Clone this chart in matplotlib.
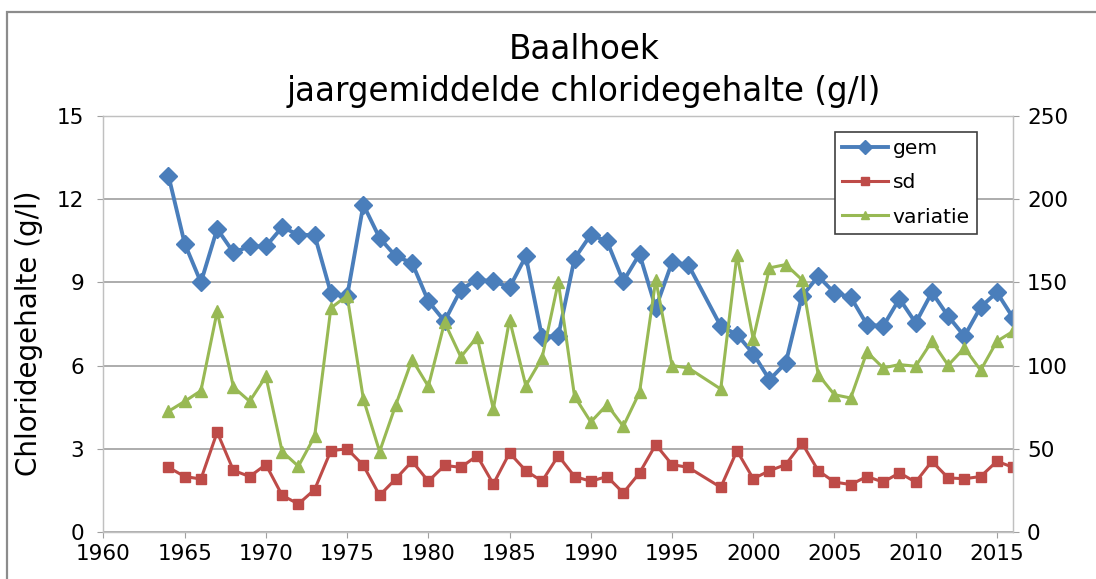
import matplotlib.pyplot as plt
from matplotlib.patches import Rectangle

# jaren (1997 ontbreekt)
jaren = [1964, 1965, 1966, 1967, 1968, 1969, 1970, 1971, 1972, 1973,
         1974, 1975, 1976, 1977, 1978, 1979, 1980, 1981, 1982, 1983,
         1984, 1985, 1986, 1987, 1988, 1989, 1990, 1991, 1992, 1993,
         1994, 1995, 1996, 1998, 1999, 2000, 2001, 2002, 2003, 2004,
         2005, 2006, 2007, 2008, 2009, 2010, 2011, 2012, 2013, 2014,
         2015, 2016]

gem = [12.85, 10.4, 9.0, 10.93, 10.08, 10.3, 10.3, 10.99, 10.72, 10.7,
       8.62, 8.5, 11.8, 10.6, 9.94, 9.7, 8.32, 7.6, 8.74, 9.1,
       9.04, 8.82, 9.94, 7.03, 7.08, 9.86, 10.72, 10.48, 9.04, 10.02,
       8.08, 9.72, 9.64, 7.42, 7.12, 6.43, 5.49, 6.09, 8.5, 9.22,
       8.62, 8.47, 7.48, 7.42, 8.41, 7.54, 8.64, 7.78, 7.06, 8.11,
       8.64, 7.72]

sd = [2.33, 2.0, 1.91, 3.6, 2.22, 2.0, 2.43, 1.32, 1.01, 1.53,
      2.93, 3.0, 2.4, 1.32, 1.92, 2.55, 1.83, 2.4, 2.33, 2.75,
      1.73, 2.85, 2.21, 1.83, 2.75, 2.0, 1.83, 2.0, 1.41, 2.13,
      3.15, 2.43, 2.33, 1.61, 2.93, 1.92, 2.21, 2.43, 3.21, 2.21,
      1.8, 1.71, 2.0, 1.8, 2.13, 1.8, 2.55, 1.95, 1.92, 2.0,
      2.55, 2.33]

variatie = [72.5, 78.5, 84.9, 132.6, 87.1, 78.5, 93.5, 48.3, 39.5, 57.5,
            134.6, 142, 79.9, 48.3, 76.5, 103.6, 87.5, 126, 105.2, 117.2,
            73.9, 127.6, 87.9, 104.6, 150.2, 81.5, 66.1, 76.5, 63.5, 83.9,
            151.6, 100, 98.6, 85.9, 166.7, 116, 158.7, 160.7, 151.6, 94.6,
            82.5, 80.5, 108.2, 98.6, 100.6, 99.6, 114.6, 100.2, 110.6, 97.2,
            114.6, 120.6]

links_ticks = [0, 3, 6, 9, 12, 15]
rechts_ticks = [0, 50, 100, 150, 200, 250]
x_ticks = [1960, 1965, 1970, 1975, 1980, 1985, 1990, 1995, 2000, 2005, 2010, 2015]

blauw = '#4a7ebb'
rood = '#be4b48'
groen = '#98b954'

fig = plt.figure(figsize=(10.96, 5.79), dpi=100)
ax = fig.add_axes([0.0944, 0.0812, 0.830, 0.7185])
ax2 = ax.twinx()

# buitenrand van de grafiek
fig.patches.append(Rectangle((7 / 1096, -0.1), 1.2, 1.1 - 12 / 579,
                             transform=fig.transFigure, fill=False,
                             edgecolor='#8c8c8c', lw=1.6))

l1, = ax.plot(jaren, gem, color=blauw, lw=2.8, marker='D', ms=9.5, label='gem')
l2, = ax.plot(jaren, sd, color=rood, lw=2.2, marker='s', ms=7.5, label='sd')
l3, = ax2.plot(jaren, variatie, color=groen, lw=2.2, marker='^', ms=9, label='variatie')

ax.set_xlim(1960, 2016)
ax.set_ylim(0, 15)
ax2.set_ylim(0, 250)
ax.set_xticks(x_ticks)
ax.set_yticks(links_ticks)
ax2.set_yticks(rechts_ticks)

ax.yaxis.grid(True, color='#a6a6a6', lw=1.3)
ax.set_axisbelow(True)

for a in (ax, ax2):
    for s in a.spines.values():
        s.set_color('#c0c0c0')
        s.set_linewidth(0.9)
ax.tick_params(axis='x', direction='out', length=4, color='#a0a0a0',
               labelsize=15.5, pad=5)
ax.tick_params(axis='y', direction='out', length=4, color='#a0a0a0',
               labelsize=15.5, pad=10)
ax2.tick_params(axis='y', direction='out', length=4, color='#a0a0a0',
                labelsize=15.5, pad=6)

ax.set_ylabel('Chloridegehalte (g/l)', fontsize=20)
ax.yaxis.set_label_coords(-0.067, 0.478)

fig.text(0.533, 0.915, 'Baalhoek', ha='center', va='center', fontsize=23.5)
fig.text(0.533, 0.842, 'jaargemiddelde chloridegehalte (g/l)',
         ha='center', va='center', fontsize=23.5)

leg = ax2.legend(handles=[l1, l2, l3], loc='upper right',
                 bbox_to_anchor=(0.96, 0.9615), borderaxespad=0,
                 fontsize=14.6, fancybox=False, framealpha=1,
                 edgecolor='#404040', handlelength=2.3, handletextpad=0.2,
                 borderpad=0.35, labelspacing=0.75, markerscale=0.7)
leg.get_frame().set_linewidth(1.2)

fig.savefig('out.png', dpi=100)
